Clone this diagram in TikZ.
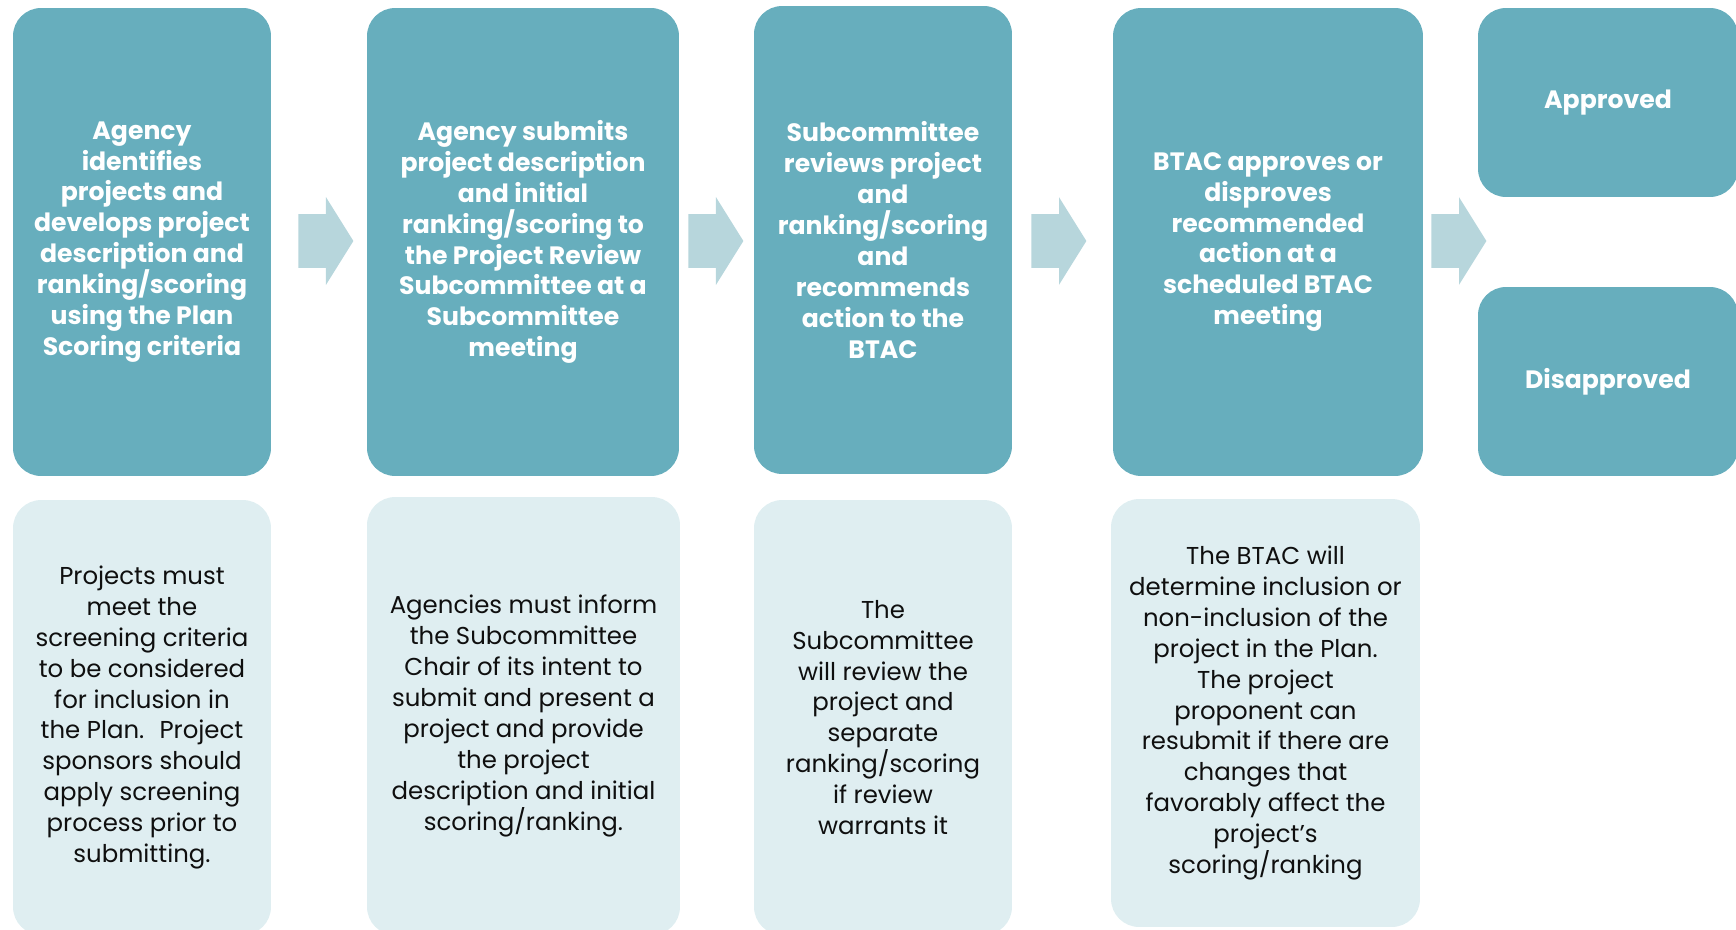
\documentclass[tikz,border=0pt]{standalone}
\usepackage{fontspec}
\setmainfont{Poppins}
\usepackage{tikz}
\usetikzlibrary{shapes.arrows}
\definecolor{stepTeal}{RGB}{103,174,189}
\definecolor{noteMist}{RGB}{223,238,241}
\definecolor{arrowMist}{RGB}{183,214,220}
\definecolor{noteInk}{RGB}{15,15,15}

\begin{document}
\begin{tikzpicture}[x=0.02cm, y=-0.02cm,
  stepbox/.style={fill=stepTeal, rounded corners=0.56cm, text=white, align=center, inner sep=0pt,
    font=\fontsize{14.3}{17.6}\selectfont\bfseries},
  notebox/.style={fill=noteMist, rounded corners=0.56cm, text=noteInk, align=center, inner sep=0pt,
    font=\fontsize{13.9}{17.6}\selectfont},
  flowarrow/.style={single arrow, fill=arrowMist, inner xsep=0pt, inner ysep=0.53cm, minimum height=1.1cm,
    single arrow head extend=0.34cm, single arrow tip angle=116}]
\useasboundingbox (0,0) rectangle (1736,929);
\clip (0,0) rectangle (1736,929);

% process steps
\node[stepbox, minimum width=5.16cm, minimum height=9.36cm] (s1) at (142,242)
  {Agency\\identifies\\projects and\\develops project\\description and\\ranking/scoring\\using the Plan\\Scoring criteria};
\node[stepbox, minimum width=6.24cm, minimum height=9.36cm] (s2) at (523,242)
  {Agency submits\\project description\\and initial\\ranking/scoring to\\the Project Review\\Subcommittee at a\\Subcommittee\\meeting};
\node[stepbox, minimum width=5.16cm, minimum height=9.36cm] (s3) at (883,240)
  {Subcommittee\\reviews project\\and\\ranking/scoring\\and\\recommends\\action to the\\BTAC};
\node[stepbox, minimum width=6.2cm, minimum height=9.36cm] (s4) at (1268,242)
  {BTAC approves or\\disproves\\recommended\\action at a\\scheduled BTAC\\meeting};
\node[stepbox, minimum width=5.2cm, minimum height=3.78cm] (ok) at (1608,102.5) {Approved};
\node[stepbox, minimum width=5.2cm, minimum height=3.78cm] (no) at (1608,381.5) {Disapproved};

% arrows between steps
\node[flowarrow] (a1) at (317.5,241) {};
\node[flowarrow] (a2) at (707.5,241) {};
\node[flowarrow] (a3) at (1050.5,241) {};
\node[flowarrow] (a4) at (1450.5,241) {};

% notes under the steps
\node[notebox, minimum width=5.16cm, minimum height=8.7cm] (n1) at (142,717.5)
  {Projects must\\meet the\\screening criteria\\to be considered\\for inclusion in\\the Plan.~ Project\\sponsors should\\apply screening\\process prior to\\submitting.};
\node[notebox, minimum width=6.26cm, minimum height=8.76cm] (n2) at (523.5,716)
  {Agencies must inform\\the Subcommittee\\Chair of its intent to\\submit and present a\\project and provide\\the project\\description and initial\\scoring/ranking.};
\node[notebox, minimum width=5.16cm, minimum height=8.7cm] (n3) at (883,717.5)
  {The\\Subcommittee\\will review the\\project and\\separate\\ranking/scoring\\if review\\warrants it};
\node[notebox, minimum width=6.18cm, minimum height=8.56cm] (n4) at (1265.5,713)
  {The BTAC will\\determine inclusion or\\non-inclusion of the\\project in the Plan.\\The project\\proponent can\\resubmit if there are\\changes that\\favorably affect the\\project’s\\scoring/ranking};
\end{tikzpicture}
\end{document}
